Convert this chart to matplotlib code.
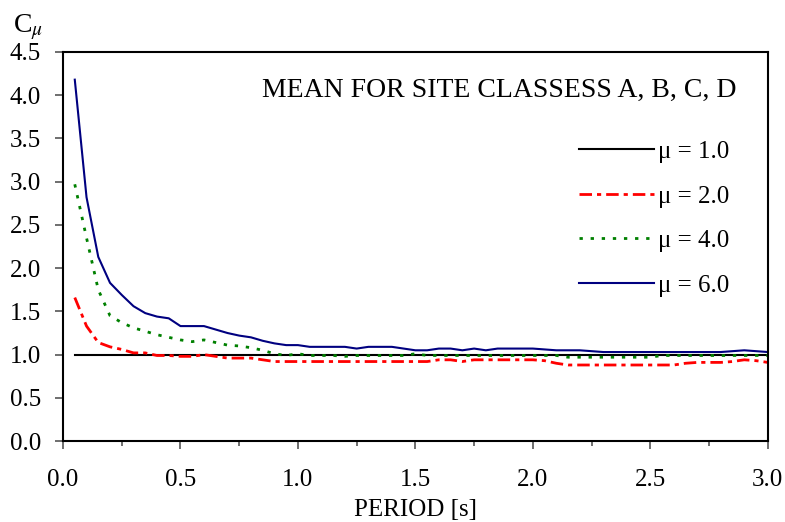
import numpy as np
import matplotlib
matplotlib.use('Agg')
import matplotlib.pyplot as plt
from matplotlib.ticker import MultipleLocator

plt.rcParams['font.family'] = ['Liberation Serif', 'DejaVu Serif']
plt.rcParams['mathtext.fontset'] = 'stix'

# period [s]
period = [0.05, 0.10, 0.15, 0.20, 0.25, 0.30, 0.35, 0.40, 0.45, 0.50,
          0.55, 0.60, 0.65, 0.70, 0.75, 0.80, 0.85, 0.90, 0.95, 1.00,
          1.05, 1.10, 1.15, 1.20, 1.25, 1.30, 1.35, 1.40, 1.45, 1.50,
          1.55, 1.60, 1.65, 1.70, 1.75, 1.80, 1.85, 1.90, 1.95, 2.00,
          2.05, 2.10, 2.15, 2.20, 2.25, 2.30, 2.35, 2.40, 2.45, 2.50,
          2.55, 2.60, 2.65, 2.70, 2.75, 2.80, 2.85, 2.90, 2.95, 3.00]

c_mu1 = [1.0] * 60

c_mu2 = [1.66, 1.33, 1.14, 1.09, 1.06, 1.02, 1.02, 0.99, 0.99, 0.98,
         0.98, 1.00, 0.98, 0.96, 0.96, 0.96, 0.94, 0.92, 0.92, 0.92,
         0.92, 0.92, 0.92, 0.92, 0.92, 0.92, 0.92, 0.92, 0.92, 0.92,
         0.92, 0.94, 0.94, 0.92, 0.94, 0.94, 0.94, 0.94, 0.94, 0.94,
         0.93, 0.90, 0.88, 0.88, 0.88, 0.88, 0.88, 0.88, 0.88, 0.88,
         0.88, 0.88, 0.90, 0.91, 0.91, 0.91, 0.92, 0.94, 0.93, 0.91]

c_mu4 = [2.97, 2.35, 1.75, 1.45, 1.37, 1.31, 1.27, 1.23, 1.20, 1.17,
         1.15, 1.17, 1.14, 1.11, 1.10, 1.08, 1.05, 1.01, 0.99, 1.01,
         0.99, 0.99, 0.99, 0.98, 0.99, 0.99, 0.99, 0.99, 0.99, 1.01,
         0.99, 0.99, 0.99, 0.99, 0.99, 0.99, 0.99, 0.99, 0.99, 0.99,
         0.99, 0.99, 0.97, 0.97, 0.97, 0.97, 0.97, 0.97, 0.97, 0.97,
         0.99, 0.99, 0.99, 0.99, 0.99, 0.99, 0.99, 0.99, 0.99, 0.99]

c_mu6 = [4.18, 2.82, 2.13, 1.83, 1.69, 1.56, 1.48, 1.44, 1.42, 1.33,
         1.33, 1.33, 1.29, 1.25, 1.22, 1.20, 1.16, 1.13, 1.11, 1.11,
         1.09, 1.09, 1.09, 1.09, 1.07, 1.09, 1.09, 1.09, 1.07, 1.05,
         1.05, 1.07, 1.07, 1.05, 1.07, 1.05, 1.07, 1.07, 1.07, 1.07,
         1.06, 1.05, 1.05, 1.05, 1.04, 1.03, 1.03, 1.03, 1.03, 1.03,
         1.03, 1.03, 1.03, 1.03, 1.03, 1.03, 1.04, 1.05, 1.04, 1.03]

fig = plt.figure(figsize=(7.85, 5.22), dpi=100)
ax = fig.add_axes([0.0803, 0.155, 0.8977, 0.7454])

ax.plot(period, c_mu1, color='black', lw=1.5, label='μ = 1.0')
ax.plot(period, c_mu2, color='#ff0000', lw=2, dashes=(4.5, 1.8, 1.5, 1.8), label='μ = 2.0')
ax.plot(period, c_mu4, color='#008000', lw=2, dashes=(1.2, 2.8), label='μ = 4.0')
ax.plot(period, c_mu6, color='#000080', lw=1.5, label='μ = 6.0')

ax.set_xlim(0, 3.0)
ax.set_ylim(0, 4.5)
ax.xaxis.set_major_locator(MultipleLocator(0.5))
ax.xaxis.set_minor_locator(MultipleLocator(0.25))
ax.yaxis.set_major_locator(MultipleLocator(0.5))
ax.xaxis.set_major_formatter(matplotlib.ticker.FormatStrFormatter('%.1f'))
ax.yaxis.set_major_formatter(matplotlib.ticker.FormatStrFormatter('%.1f'))
ax.tick_params(axis='both', which='major', direction='out', length=5.8, width=1.2,
               labelsize=18, color='#555555')
ax.tick_params(axis='x', which='major', pad=14)
ax.tick_params(axis='y', which='major', pad=10)
ax.tick_params(axis='x', which='minor', direction='out', length=3.6, width=1.2, color='#555555')
for s in ax.spines.values():
    s.set_linewidth(1.5)

ax.set_xlabel('PERIOD [s]', fontsize=18, labelpad=6)
fig.text(0.016, 0.948, r'C$_\mu$', fontsize=20, va='center', ha='left')

ax.text(0.956, 0.902, 'MEAN FOR SITE CLASSESS A, B, C, D', transform=ax.transAxes,
        fontsize=20, ha='right', va='center')

leg = ax.legend(loc='upper right', bbox_to_anchor=(0.946, 0.772), frameon=False,
                fontsize=18, handlelength=3.0, handletextpad=0.16, labelspacing=0.88,
                borderpad=0, borderaxespad=0)

fig.savefig('out.png', dpi=100)
